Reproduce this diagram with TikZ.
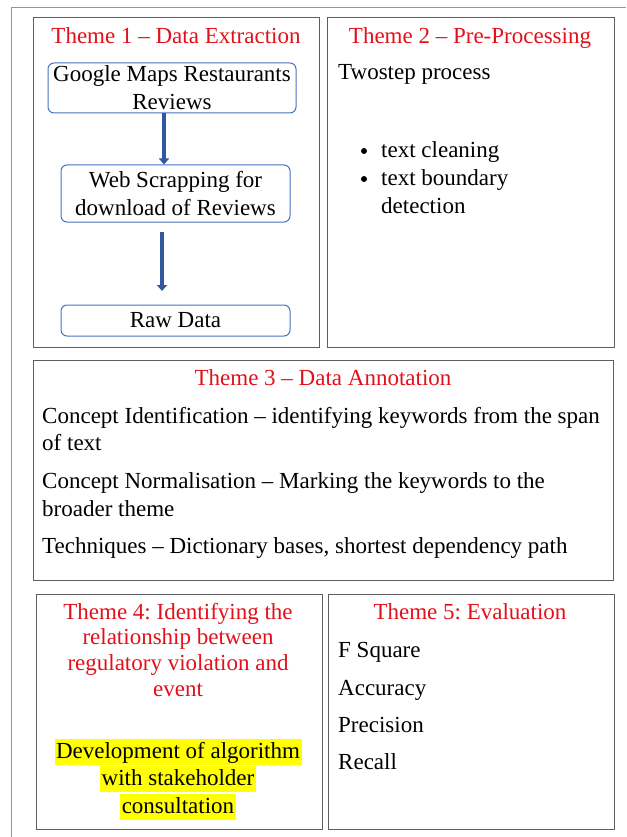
\documentclass[tikz,border=0pt]{standalone}
\usepackage{fontspec}
\setmainfont{Liberation Serif}
\usetikzlibrary{arrows.meta}
\definecolor{themered}{RGB}{226,16,26}
\definecolor{panelgray}{RGB}{95,95,95}
\definecolor{framegray}{RGB}{150,150,150}
\definecolor{boxblue}{RGB}{68,114,196}
\definecolor{arrowblue}{RGB}{50,88,160}
\definecolor{hiyellow}{RGB}{255,255,0}
\tikzset{
  body/.style={font=\fontsize{23}{28}\selectfont\frenchspacing, inner sep=0pt},
  title/.style={body, text=themered, align=center, anchor=base},
  txt/.style={body, anchor=base west},
  panel/.style={draw=panelgray, line width=0.9pt, anchor=north west, inner sep=0pt},
  rbox/.style={draw=boxblue, line width=1pt, rounded corners=6pt, body, align=center},
  blockarrow/.style={draw=arrowblue, line width=4.5pt,
    -{Triangle[length=6pt,width=10pt]}},
  hilite/.style={body, fill=hiyellow, inner xsep=1.5pt, inner ysep=0.5pt,
    text height=19pt, text depth=6pt, anchor=base},
  dot/.style={circle, fill=black, inner sep=0pt, minimum size=6pt}
}
\begin{document}
\begin{tikzpicture}[x=1pt,y=-1pt]
\useasboundingbox (0,0) rectangle (626,837);
% outer frame, running off the page to the right and bottom
\coordinate (fbl) at (11,837);
\coordinate (ftl) at (11,7);
\coordinate (ftr) at (626,7);
\draw[framegray, line width=0.9pt] (fbl) -- (ftl) -- (ftr);

% panels
\node[panel, minimum width=286pt, minimum height=330pt] (p1) at (33,17) {};
\node[panel, minimum width=287pt, minimum height=330pt] (p2) at (327,17) {};
\node[panel, minimum width=580pt, minimum height=220pt] (p3) at (33,360) {};
\node[panel, minimum width=286pt, minimum height=235pt] (p4) at (36,594) {};
\node[panel, minimum width=286pt, minimum height=235pt] (p5) at (328,594) {};

% Theme 1
\node[title] (h1) at (176,43.5) {Theme 1 – Data Extraction};
\node[rbox, minimum width=248pt, minimum height=50pt] (g) at (172,88)
  {Google Maps Restaurants\\Reviews};
\node[rbox, minimum width=229pt, minimum height=57pt] (w) at (175.5,193.5)
  {Web Scrapping for\\download of Reviews};
\node[rbox, minimum width=229pt, minimum height=31pt] (r) at (175.5,320.5)
  {Raw Data};
\coordinate (a1) at (164,0);
\draw[blockarrow] (g.south -| a1) -- (w.north -| a1);
\coordinate (a2s) at (162,232);
\coordinate (a2e) at (162,291);
\draw[blockarrow] (a2s) -- (a2e);

% Theme 2
\node[title] (h2) at (470,43.5) {Theme 2 – Pre-Processing};
\node[txt] (t2) at (338,80) {Twostep process};
\node[dot] (b1) at (364,151) {};
\node[txt] (l1) at (381,157.5) {text cleaning};
\node[dot] (b2) at (364,179) {};
\node[txt] (l2) at (381,185.5) {text boundary};
\node[txt] (l3) at (381,213.5) {detection};

% Theme 3
\node[title] (h3) at (323,385.5) {Theme 3 – Data Annotation};
\node[txt] (c1) at (42,423.5) {Concept Identification – identifying keywords from the span};
\node[txt] (c2) at (42,450.5) {of text};
\node[txt] (c3) at (42,488.5) {Concept Normalisation – Marking the keywords to the};
\node[txt] (c4) at (42,516.5) {broader theme};
\node[txt] (c5) at (42,553.5) {Techniques – Dictionary bases, shortest dependency path};

% Theme 4
\node[title] (h4a) at (178,619.5) {Theme 4: Identifying the};
\node[title] (h4b) at (178,644.5) {relationship between};
\node[title] (h4c) at (178,670.5) {regulatory violation and};
\node[title] (h4d) at (178,696.5) {event};
\node[hilite] (d1) at (178,758) {Development of algorithm};
\node[hilite] (d2) at (178,785.5) {with stakeholder};
\node[hilite] (d3) at (178,813) {consultation};

% Theme 5
\node[title] (h5) at (470,619.5) {Theme 5: Evaluation};
\node[txt] (e1) at (338,657.5) {F Square};
\node[txt] (e2) at (338,695.5) {Accuracy};
\node[txt] (e3) at (338,732.5) {Precision};
\node[txt] (e4) at (338,769.5) {Recall};
\end{tikzpicture}
\end{document}
